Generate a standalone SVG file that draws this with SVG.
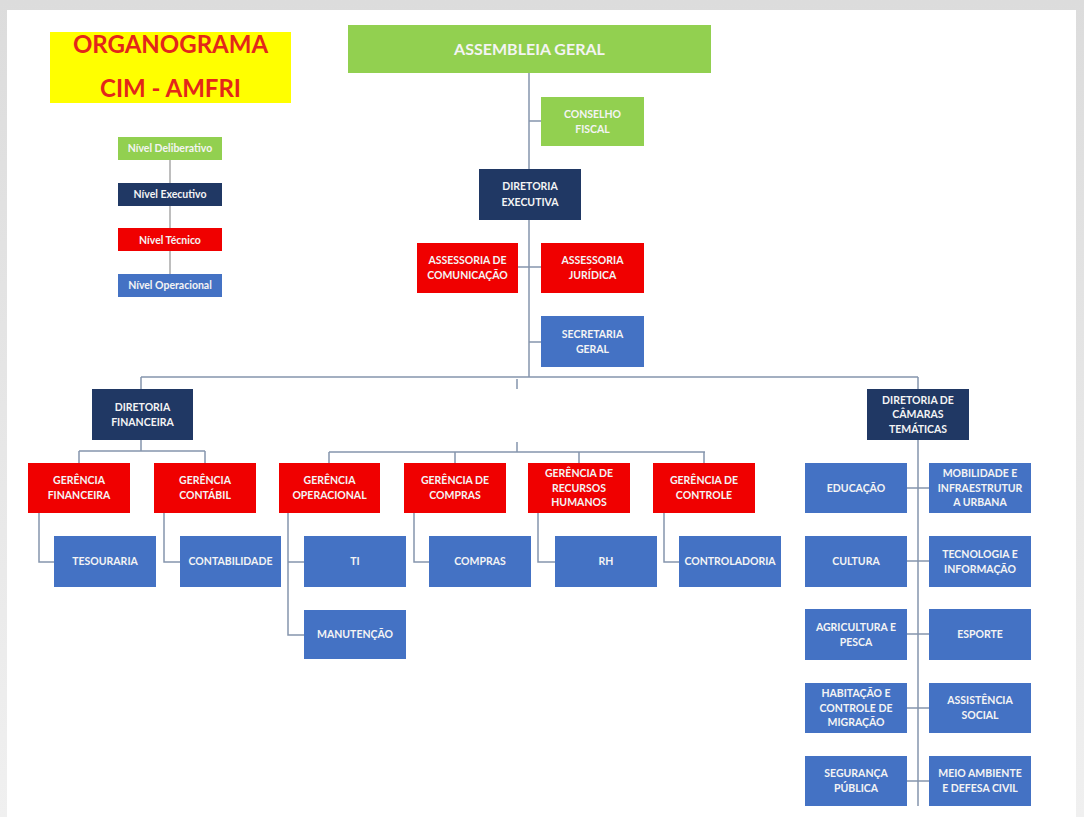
<svg xmlns="http://www.w3.org/2000/svg" width="1084" height="817" viewBox="0 0 1084 817">
<defs>
<linearGradient id="topshade" x1="0" y1="0" x2="0" y2="1"><stop offset="0" stop-color="#dcdcdc"/><stop offset="1" stop-color="#f0f0f0"/></linearGradient>
</defs>
<style>
.g{fill:#92d050}.n{fill:#203864}.r{fill:#f00000}.b{fill:#4472c4}.y{fill:#ffff00}
text{font-family:Lato,"Liberation Sans",sans-serif;font-weight:bold;fill:#f4f4f4;text-anchor:middle}
.t{font-size:10.5px}.l{font-size:10.5px}.big{font-size:24px;fill:#e3261a}.ag{font-size:16px}
.c{fill:none;stroke:#8595ad;stroke-width:1.5}.cl{fill:none;stroke:#a8a8a8;stroke-width:1.5}
</style>
<rect width="1084" height="817" fill="url(#topshade)"/>
<rect x="7" y="10" width="1069" height="807" fill="#ffffff"/>

<g id="connectors">
<path class="cl" d="M170,160V274"/>
<path class="c" d="M529,73V377M529,121H541M518,267H541M529,342H541"/>
<path class="c" d="M141,377H918M141,377V389M918,377V389M517,379V389"/>
<path class="c" d="M141,440V451M79,451H205M79,451V463M205,451V463"/>
<path class="c" d="M39,513V562H54M164,513V562H180"/>
<path class="c" d="M329,452H705M329,452V463M455,452V463M579,452V463M704,452V463M517,442V452"/>
<path class="c" d="M288,513V635H304M288,562H304M414,513V562H429M538,513V562H555M664,513V562H679"/>
<path class="c" d="M918,440V806M907,488H929M907,561H929M907,634H929M907,708H929M907,781H929"/>
</g>

<g id="title"><rect class="y" x="50" y="32" width="241" height="71"/>
<text class="big" x="170.5" y="53">ORGANOGRAMA</text><text class="big" x="170.5" y="97">CIM - AMFRI</text></g>

<g id="leg-deliberativo"><rect class="g" x="118" y="137" width="104" height="23"/><text class="l" x="170" y="152.3">Nível Deliberativo</text></g>
<g id="leg-executivo"><rect class="n" x="118" y="183" width="104" height="23"/><text class="l" x="170" y="198.3">Nível Executivo</text></g>
<g id="leg-tecnico"><rect class="r" x="118" y="228" width="104" height="23"/><text class="l" x="170" y="243.8">Nível Técnico</text></g>
<g id="leg-operacional"><rect class="b" x="118" y="274" width="104" height="23"/><text class="l" x="170" y="289.3">Nível Operacional</text></g>

<g id="assembleia"><rect class="g" x="348" y="25" width="363" height="48"/><text class="ag" x="529.5" y="54.5">ASSEMBLEIA GERAL</text></g>
<g id="conselho"><rect class="g" x="541" y="97" width="103" height="49"/><text class="t" x="592.5" y="117.8">CONSELHO</text><text class="t" x="592.5" y="132.8">FISCAL</text></g>
<g id="dir-executiva"><rect class="n" x="479" y="169" width="102" height="51"/><text class="t" x="530" y="190.3">DIRETORIA</text><text class="t" x="530" y="206.3">EXECUTIVA</text></g>
<g id="ass-comunicacao"><rect class="r" x="417" y="243" width="101" height="50"/><text class="t" x="467.5" y="264.3">ASSESSORIA DE</text><text class="t" x="467.5" y="279.3">COMUNICAÇÃO</text></g>
<g id="ass-juridica"><rect class="r" x="541" y="243" width="103" height="50"/><text class="t" x="592.5" y="264.3">ASSESSORIA</text><text class="t" x="592.5" y="279.3">JURÍDICA</text></g>
<g id="secretaria"><rect class="b" x="541" y="316" width="103" height="51"/><text class="t" x="592.5" y="337.8">SECRETARIA</text><text class="t" x="592.5" y="352.8">GERAL</text></g>

<g id="dir-financeira"><rect class="n" x="92" y="389" width="101" height="51"/><text class="t" x="142.5" y="410.8">DIRETORIA</text><text class="t" x="142.5" y="425.8">FINANCEIRA</text></g>
<g id="ger-financeira"><rect class="r" x="28" y="463" width="102" height="50"/><text class="t" x="79" y="484.3">GERÊNCIA</text><text class="t" x="79" y="499.3">FINANCEIRA</text></g>
<g id="ger-contabil"><rect class="r" x="154" y="463" width="102" height="50"/><text class="t" x="205" y="484.3">GERÊNCIA</text><text class="t" x="205" y="499.3">CONTÁBIL</text></g>
<g id="tesouraria"><rect class="b" x="54" y="536" width="102" height="51"/><text class="t" x="105" y="565.3">TESOURARIA</text></g>
<g id="contabilidade"><rect class="b" x="180" y="536" width="101" height="51"/><text class="t" x="230.5" y="565.3">CONTABILIDADE</text></g>

<g id="ger-operacional"><rect class="r" x="279" y="463" width="101" height="50"/><text class="t" x="329.5" y="484.3">GERÊNCIA</text><text class="t" x="329.5" y="499.3">OPERACIONAL</text></g>
<g id="ger-compras"><rect class="r" x="404" y="463" width="102" height="50"/><text class="t" x="455" y="484.3">GERÊNCIA DE</text><text class="t" x="455" y="499.3">COMPRAS</text></g>
<g id="ger-rh"><rect class="r" x="528" y="463" width="102" height="50"/><text class="t" x="579" y="477.3">GERÊNCIA DE</text><text class="t" x="579" y="491.8">RECURSOS</text><text class="t" x="579" y="506.3">HUMANOS</text></g>
<g id="ger-controle"><rect class="r" x="653" y="463" width="102" height="50"/><text class="t" x="704" y="484.3">GERÊNCIA DE</text><text class="t" x="704" y="499.3">CONTROLE</text></g>
<g id="ti"><rect class="b" x="304" y="536" width="102" height="51"/><text class="t" x="355" y="565.3">TI</text></g>
<g id="manutencao"><rect class="b" x="304" y="610" width="102" height="49"/><text class="t" x="355" y="638.3">MANUTENÇÃO</text></g>
<g id="compras"><rect class="b" x="429" y="536" width="102" height="51"/><text class="t" x="480" y="565.3">COMPRAS</text></g>
<g id="rh"><rect class="b" x="555" y="536" width="102" height="51"/><text class="t" x="606" y="565.3">RH</text></g>
<g id="controladoria"><rect class="b" x="679" y="536" width="102" height="51"/><text class="t" x="730" y="565.3">CONTROLADORIA</text></g>

<g id="dir-camaras"><rect class="n" x="867" y="389" width="102" height="51"/><text class="t" x="918" y="403.8">DIRETORIA DE</text><text class="t" x="918" y="418.3">CÂMARAS</text><text class="t" x="918" y="432.8">TEMÁTICAS</text></g>
<g id="educacao"><rect class="b" x="805" y="463" width="102" height="50"/><text class="t" x="856" y="491.8">EDUCAÇÃO</text></g>
<g id="mobilidade"><rect class="b" x="929" y="463" width="102" height="50"/><text class="t" x="980" y="477.3">MOBILIDADE E</text><text class="t" x="980" y="491.8">INFRAESTRUTUR</text><text class="t" x="980" y="506.3">A URBANA</text></g>
<g id="cultura"><rect class="b" x="805" y="536" width="102" height="51"/><text class="t" x="856" y="565.3">CULTURA</text></g>
<g id="tecnologia"><rect class="b" x="929" y="536" width="102" height="51"/><text class="t" x="980" y="557.8">TECNOLOGIA E</text><text class="t" x="980" y="572.8">INFORMAÇÃO</text></g>
<g id="agricultura"><rect class="b" x="805" y="609" width="102" height="51"/><text class="t" x="856" y="630.8">AGRICULTURA E</text><text class="t" x="856" y="645.8">PESCA</text></g>
<g id="esporte"><rect class="b" x="929" y="609" width="102" height="51"/><text class="t" x="980" y="638.3">ESPORTE</text></g>
<g id="habitacao"><rect class="b" x="805" y="683" width="102" height="50"/><text class="t" x="856" y="697.3">HABITAÇÃO E</text><text class="t" x="856" y="711.8">CONTROLE DE</text><text class="t" x="856" y="726.3">MIGRAÇÃO</text></g>
<g id="assistencia"><rect class="b" x="929" y="683" width="102" height="50"/><text class="t" x="980" y="704.3">ASSISTÊNCIA</text><text class="t" x="980" y="719.3">SOCIAL</text></g>
<g id="seguranca"><rect class="b" x="805" y="756" width="102" height="50"/><text class="t" x="856" y="777.3">SEGURANÇA</text><text class="t" x="856" y="792.3">PÚBLICA</text></g>
<g id="meio-ambiente"><rect class="b" x="929" y="756" width="102" height="50"/><text class="t" x="980" y="777.3">MEIO AMBIENTE</text><text class="t" x="980" y="792.3">E DEFESA CIVIL</text></g>
</svg>
